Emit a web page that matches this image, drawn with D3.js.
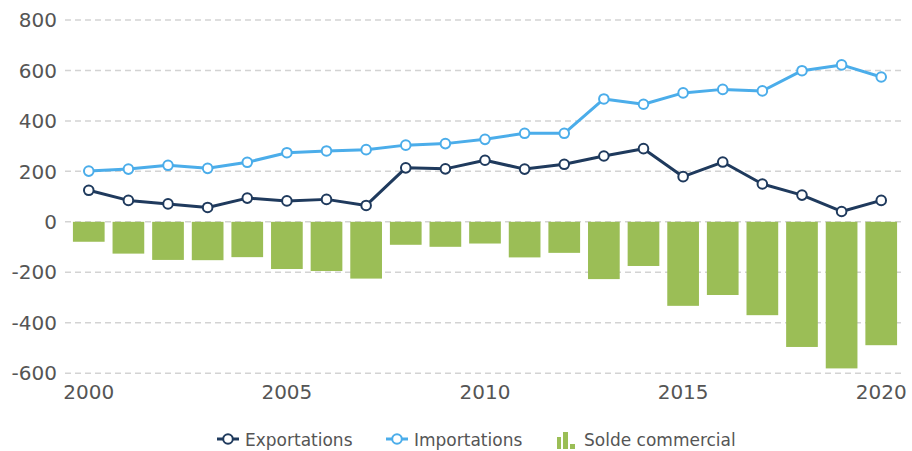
<!DOCTYPE html>
<html>
<head>
<meta charset="utf-8">
<script src="https://cdn.jsdelivr.net/npm/d3@7"></script>
<style>
  html, body { margin: 0; padding: 0; background: #fff; }
  svg { display: block; font-family: "DejaVu Sans", Verdana, sans-serif; }
</style>
</head>
<body>
<svg id="chart" width="912" height="451"></svg>
<script>
const years = [2000,2001,2002,2003,2004,2005,2006,2007,2008,2009,2010,2011,2012,2013,2014,2015,2016,2017,2018,2019,2020];
const exportations = [125,85,71,57,94,83,89,65,214,210,244,209,228,261,290,179,237,150,106,41,85];
const importations = [201,209,224,212,236,274,281,286,304,310,327,351,351,487,466,511,525,519,599,622,574];
const solde = [-79,-126,-151,-152,-140,-187,-195,-225,-91,-99,-86,-141,-123,-227,-175,-333,-290,-370,-496,-581,-489];
const yTicks = [-600,-400,-200,0,200,400,600,800];
const xTickLabels = [2000,2005,2010,2015,2020];
const seriesNames = ["Exportations","Importations","Solde commercial"];

const colors = { exp: "#1f3a5d", imp: "#4badea", bar: "#9bbe56" };

const svg = d3.select("#chart");
const x = d3.scaleBand().domain(years).range([65, 905]).padding(0.2);
const y = d3.scaleLinear().domain([-600, 800]).range([373.2, 20]);

// gridlines
svg.append("g").selectAll("line").data(yTicks).join("line")
  .attr("x1", 65).attr("x2", 905)
  .attr("y1", d => y(d)).attr("y2", d => y(d))
  .attr("stroke", "#d3d3d3").attr("stroke-width", 1.5)
  .attr("stroke-dasharray", "6,4");

// y labels
svg.append("g").selectAll("text").data(yTicks).join("text")
  .attr("x", 57).attr("y", d => y(d)).attr("dy", "0.36em")
  .attr("text-anchor", "end").attr("font-size", 20).attr("fill", "#555")
  .text(d => d);

// x labels
svg.append("g").selectAll("text").data(xTickLabels).join("text")
  .attr("x", d => x(d) + x.bandwidth() / 2).attr("y", 399)
  .attr("text-anchor", "middle").attr("font-size", 20).attr("fill", "#555")
  .text(d => d);

// bars
svg.append("g").selectAll("rect").data(years).join("rect")
  .attr("x", d => x(d))
  .attr("width", x.bandwidth())
  .attr("y", (d, i) => Math.min(y(0), y(solde[i])))
  .attr("height", (d, i) => Math.abs(y(solde[i]) - y(0)))
  .attr("fill", colors.bar);

function drawLine(vals, color) {
  const pts = years.map((yr, i) => [x(yr) + x.bandwidth() / 2, y(vals[i])]);
  svg.append("path").attr("d", d3.line()(pts))
    .attr("fill", "none").attr("stroke", color).attr("stroke-width", 3)
    .attr("stroke-linejoin", "round");
  svg.append("g").selectAll("circle").data(pts).join("circle")
    .attr("cx", d => d[0]).attr("cy", d => d[1]).attr("r", 4.8)
    .attr("fill", "#fff").attr("stroke", color).attr("stroke-width", 2);
}
drawLine(importations, colors.imp);
drawLine(exportations, colors.exp);

// legend
const lg = svg.append("g").attr("font-size", 17).attr("fill", "#555");
const ly = 439;
function lineMarker(x0, color) {
  lg.append("line").attr("x1", x0).attr("x2", x0 + 22).attr("y1", ly).attr("y2", ly)
    .attr("stroke", color).attr("stroke-width", 3);
  lg.append("circle").attr("cx", x0 + 11).attr("cy", ly).attr("r", 4.8)
    .attr("fill", "#fff").attr("stroke", color).attr("stroke-width", 2);
}
lineMarker(217, colors.exp);
lg.append("text").attr("x", 245).attr("y", 446).text(seriesNames[0]);
lineMarker(386, colors.imp);
lg.append("text").attr("x", 414).attr("y", 446).text(seriesNames[1]);
// bar icon
const icon = [[557, 4, 12], [563, 5, 17], [570, 5, 5]];
lg.append("g").selectAll("rect").data(icon).join("rect")
  .attr("x", d => d[0]).attr("width", d => d[1])
  .attr("y", d => 450 - d[2] - 1).attr("height", d => d[2])
  .attr("fill", colors.bar);
lg.append("text").attr("x", 584).attr("y", 446).text(seriesNames[2]);
</script>
</body>
</html>
